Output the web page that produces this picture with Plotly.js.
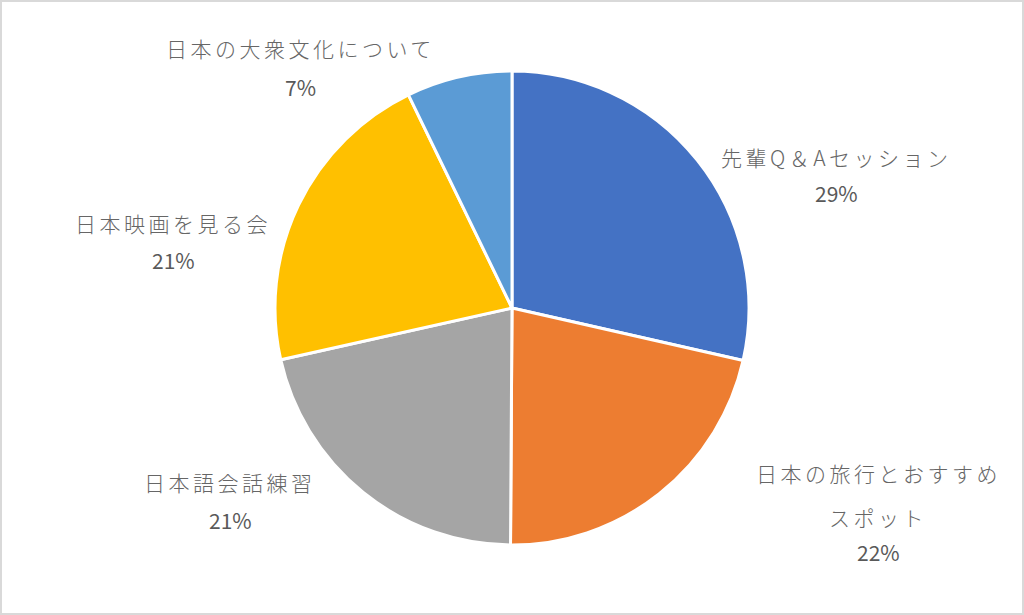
<!DOCTYPE html>
<html>
<head>
<meta charset="utf-8">
<script src="https://cdn.plot.ly/plotly-3.0.1.min.js"></script>
<style>
  body { margin: 0; background: #fff; }
  #chart { width: 1024px; height: 615px; }
  /* category names are spaced out like the original, the percentages are not */
  .annotation-text { letter-spacing: 3.5px; }
  .annotation-text[style*="sans-serif"] { letter-spacing: 0px; }
</style>
</head>
<body>
<div id="chart"></div>
<script>
// data
const categories = ['先輩Q＆Aセッション', '日本の旅行とおすすめ<br>スポット', '日本語会話練習', '日本映画を見る会', '日本の大衆文化について'];
const values = [28.55, 21.55, 21.4, 21.3, 7.2];
const colors = ['#4472C4', '#ED7D31', '#A5A5A5', '#FFC000', '#5B9BD5'];

// label placement in pixels: [x centre, first line y, percent y]
const labelPos = [
  [836, 157, 193],
  [878, 473, 552],
  [230, 482, 520],
  [173, 223, 260],
  [300, 48, 87]
];

const W = 1024, H = 615;
const total = values.reduce((a, b) => a + b, 0);

const trace = {
  type: 'pie',
  labels: categories,
  values: values,
  sort: false,
  direction: 'clockwise',
  rotation: 0,
  textinfo: 'none',
  hoverinfo: 'label+percent',
  marker: { colors: colors, line: { color: '#ffffff', width: 3 } },
  domain: { x: [275 / W, 749 / W], y: [70 / H, 544 / H] }
};

const annotations = [];
categories.forEach((c, i) => {
  const p = labelPos[i];
  const lines = c.split('<br>');
  lines.forEach((ln, k) => {
    annotations.push({
      text: ln, showarrow: false, xref: 'paper', yref: 'paper',
      x: p[0] / W, y: 1 - (p[1] + k * 44) / H, xanchor: 'center', yanchor: 'middle',
      font: { family: 'Noto Sans CJK JP', size: 21, color: '#666666', weight: 300 }
    });
  });
  annotations.push({
    text: Math.round(values[i] / total * 100) + '%', showarrow: false, xref: 'paper', yref: 'paper',
    x: p[0] / W, y: 1 - p[2] / H, xanchor: 'center', yanchor: 'middle',
    font: { family: 'Noto Sans CJK JP, sans-serif', size: 21, color: '#595959' }
  });
});

const layout = {
  width: W, height: H,
  margin: { l: 0, r: 0, t: 0, b: 0 },
  showlegend: false,
  paper_bgcolor: '#ffffff',
  annotations: annotations,
  shapes: [{
    type: 'rect', xref: 'paper', yref: 'paper',
    x0: 1 / W, x1: 1 - 1 / W, y0: 1 / H, y1: 1 - 1 / H,
    line: { color: '#d9d9d9', width: 2 }
  }]
};

Plotly.newPlot('chart', [trace], layout, { displayModeBar: false, staticPlot: true });
</script>
</body>
</html>
